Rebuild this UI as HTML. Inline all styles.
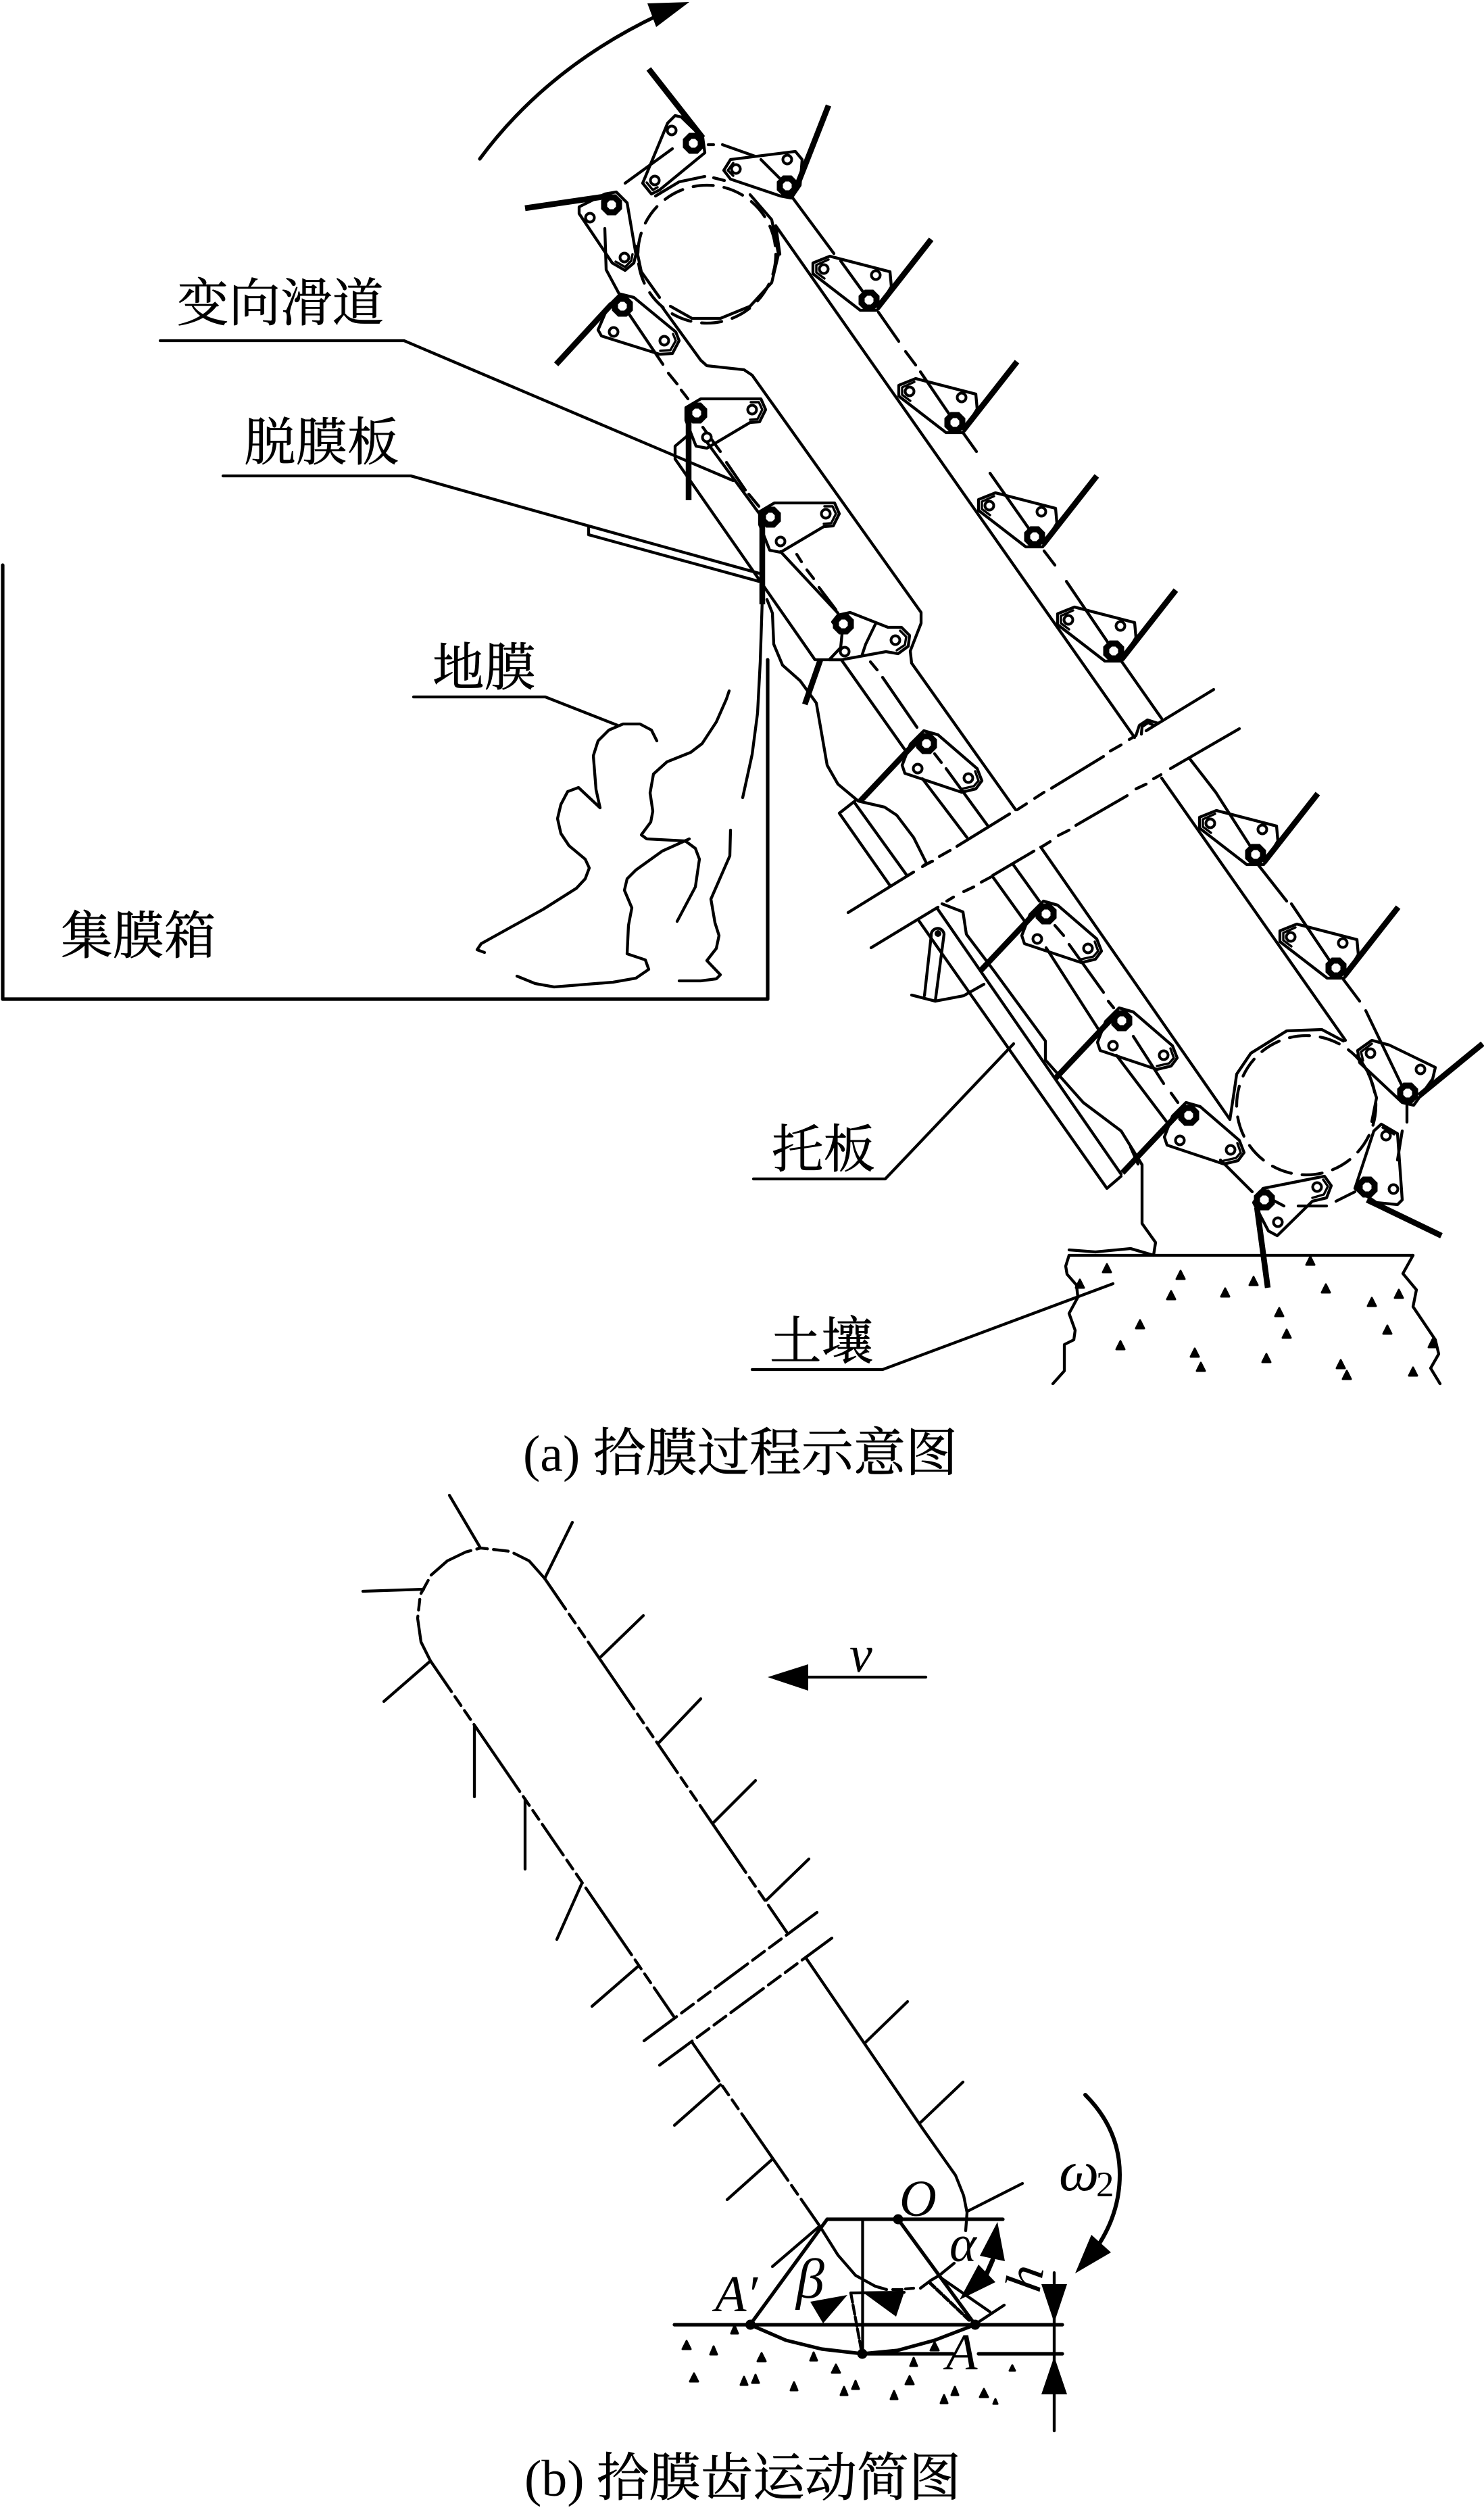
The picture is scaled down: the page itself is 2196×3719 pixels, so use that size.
<!DOCTYPE html>
<html><head><meta charset="utf-8"><style>
html,body{margin:0;padding:0;background:#fff}
svg{display:block}
.l{fill:none;stroke:#000;stroke-width:4.3;stroke-linejoin:round;stroke-linecap:round}
.d{fill:none;stroke:#000;stroke-width:3.4;stroke-linejoin:round;stroke-linecap:round}
.w{fill:none;stroke:#000;stroke-width:5.2;stroke-linejoin:round;stroke-linecap:round}
.t{fill:none;stroke:#000;stroke-width:8.5;stroke-linecap:butt;stroke-linejoin:round}
.cj{font-family:"Liberation Serif","Noto Serif CJK SC",serif;font-size:76.5px;fill:#000;stroke:#000;stroke-width:.7}
.la{font-family:"Liberation Serif",serif;font-size:76px;fill:#000}
.it{font-family:"Liberation Serif",serif;font-style:italic;font-size:76px;fill:#000}
.tr{fill:#000;stroke:#000;stroke-width:3;stroke-linejoin:round}
</style></head><body>
<svg width="2196" height="3719" viewBox="0 0 2196 3719" xmlns="http://www.w3.org/2000/svg">
<defs>
<g id="pin"><polygon points="11,-4.5 4.5,-11 -4.5,-11 -11,-4.5 -11,4.5 -4.5,11 4.5,11 11,4.5" fill="#fff" stroke="#000" stroke-width="9"/></g>
<circle id="end" r="6.5" fill="#fff" stroke="#000" stroke-width="4"/>
<circle id="sm" r="6.5" fill="#fff" stroke="#000" stroke-width="4"/>
<g id="R"><polygon class="l" points="-58,-65 31,-42 33,-20 12,15 -13,15 -83,-39 -83,-55"/><polyline class="d" points="-60,-60 -78,-52 -78,-41 -66,-32"/><use href="#end" x="-67" y="-46"/><use href="#sm" x="10" y="-37"/><use href="#pin"/><line class="t" x1="12" y1="12" x2="92" y2="-90"/></g>
<g id="L"><polygon class="l" points="-4,-19 17,-13 75,37 82,55 73,67 52,72 -32,44 -36,32 -24,1"/><polyline class="d" points="72,41 77,55 70,63 52,67"/><use href="#end" x="62" y="51"/><use href="#sm" x="-13" y="37"/><use href="#pin"/><line class="t" x1="-14" y1="-4" x2="-98" y2="85"/></g>
<g id="U"><polygon class="l" points="6,-21 79,-21 95,-21 102,-5 93,13 79,14 15,52 -1,49 -16,11 -16,-8"/><polyline class="d" points="80,-16 92,-16 97,-5 90,9 79,10"/><use href="#end" x="82" y="-5"/><use href="#sm" x="15" y="36"/><use href="#pin"/><line class="t" x1="-12" y1="6" x2="-12" y2="129"/></g>
</defs>
<rect width="2196" height="3719" fill="#fff"/>

<!-- (a) arrow -->
<path class="w" d="M710,235Q810,100 975,22"/>
<polygon points="1020,3 958,5 971,40"/>

<!-- box -->
<polyline class="w" points="4,836 4,1478 1136,1478 1136,976"/>

<!-- labels -->
<text class="cj" x="262" y="475">变向滑道</text>
<polyline class="l" points="237,504 598,504 1085,711"/>
<text class="cj" x="361" y="681">脱膜板</text>
<polyline class="l" points="330,704 608,704 871,778"/>
<text class="cj" x="640" y="1014">地膜</text>
<polyline class="l" points="612,1031 807,1031 914,1073"/>
<text class="cj" x="90" y="1411">集膜箱</text>
<text class="cj" x="1142" y="1727">托板</text>
<polyline class="l" points="1115,1744 1310,1744 1500,1544"/>
<text class="cj" x="1139" y="2011">土壤</text>
<polyline class="l" points="1113,2026 1306,2026 1647,1899"/>

<!-- stripper board -->
<polyline class="l" points="871,791 871,778 1123,848"/>
<line class="l" x1="871" y1="791" x2="1123" y2="860"/>

<!-- film -->
<polyline class="l" points="1079,1022 1075,1034 1060,1068 1039,1100 1022,1113 987,1127 967,1145 962,1173 966,1200 963,1216 949,1235 957,1241 1014,1244 1029,1255 1035,1271 1029,1312 1002,1363"/>
<polyline class="l" points="972,1096 964,1080 947,1071 922,1071 901,1080 885,1096 878,1118 882,1168 888,1195 856,1165 840,1171 830,1190 825,1211 830,1233 842,1251 866,1271 872,1284 866,1300 853,1314 804,1345 712,1396 706,1405 717,1409"/>
<polyline class="l" points="1020,1241 980,1259 941,1287 928,1300 924,1317 935,1343 930,1369 928,1411 955,1420 960,1434 941,1447 907,1453 869,1456 820,1460 792,1455 765,1444"/>
<polyline class="l" points="1081,1228 1080,1266 1052,1330 1058,1365 1064,1384 1060,1403 1046,1421 1066,1442 1060,1448 1037,1451 1005,1451"/>
<polyline class="l" points="1128,887 1125,979 1121,1055 1113,1116 1099,1180"/>
<polyline class="l" points="1135,887 1143,907 1145,953 1158,984 1184,1007 1208,1040 1224,1132 1240,1160 1270,1185 1309,1194 1327,1206 1352,1239 1371,1277"/>
<line class="l" x1="1367" y1="1280" x2="1380" y2="1274"/>

<!-- upper sprocket -->
<circle class="l" cx="1046" cy="376" r="102" stroke-dasharray="30 16"/>
<polyline class="l" points="1110,288 1142,325 1152,376 1142,418 1110,453 1066,471 1024,471 992,453"/>
<polyline class="l" points="1148,334 1154,376"/>
<polyline class="l" points="1043,261 1005,269 970,290"/>
<polyline class="l" points="1056,263 1072,267"/>
<polyline class="l" points="895,338 897,399 919,440"/>
<polyline class="l" points="941,364 949,402 976,440"/>
<line class="l" x1="1048" y1="214" x2="1056" y2="214"/>
<line class="l" x1="1069" y1="214" x2="1117" y2="231"/>
<line class="l" x1="1126" y1="236" x2="1164" y2="274"/>
<line class="l" x1="925" y1="271" x2="995" y2="220"/>

<!-- right rail & chain upper -->
<line class="l" x1="1148" y1="334" x2="1679" y2="1091"/>
<path class="l" d="M1171,290L1234,375M1244,386L1286,444M1300,462L1330,505M1340,520L1355,540M1362,550L1413,625M1425,640L1445,668M1465,700L1531,794M1545,815L1561,836M1578,860L1648,963M1658,976L1719,1063"/>

<!-- center guide -->
<polyline class="l" points="979,453 1037,533 1046,541 1101,547 1113,555 1363,906 1363,922 1347,963 1349,981 1503,1198"/>

<!-- left chain upper -->
<path class="l" d="M925,456L981,539M989,552L1002,568M1008,577L1018,590M1040,632L1066,668M1075,684L1103,725M1108,731L1123,749M1179,820L1186,831M1194,843L1204,856M1212,869L1237,902"/>
<polyline class="l" points="1018,644 999,660 999,679 1206,976 1245,976 1339,1109"/>
<line class="l" x1="1043" y1="650" x2="1123" y2="759"/>
<line class="l" x1="1155" y1="816" x2="1240" y2="907"/>
<polyline class="l" points="1296,922 1281,953 1276,968"/>
<path class="l" d="M1288,979L1298,991M1306,1002L1357,1076M1383,1115L1393,1128M1400,1137L1462,1222"/>
<line class="l" x1="1365" y1="1152" x2="1431" y2="1239"/>

<!-- film board -->
<polyline class="l" points="1265,1185 1242,1203 1317,1310"/>
<line class="l" x1="1265" y1="1188" x2="1342" y2="1295"/>

<!-- break lines -->
<path class="l" d="M1255,1350L1352,1290M1365,1282L1379,1274M1390,1267L1406,1258M1416,1252L1494,1204M1505,1198L1519,1189M1531,1181L1545,1172M1556,1166L1633,1119M1643,1111L1659,1102M1671,1094L1681,1088M1696,1081L1796,1020"/>
<path class="l" d="M1289,1402L1388,1342M1401,1333L1411,1327M1426,1319L1441,1312M1452,1305L1467,1297M1469,1295L1530,1259M1541,1253L1554,1245M1566,1236L1582,1228M1592,1221L1668,1177M1681,1167L1696,1160M1707,1152L1718,1146M1732,1137L1834,1078"/>
<polyline class="l" points="1681,1088 1686,1073 1698,1065 1714,1070"/>
<polyline class="l" points="1689,1086 1690,1075 1699,1069 1707,1073"/>

<!-- lower rails -->
<line class="l" x1="1540" y1="1253" x2="1820" y2="1656"/>
<polyline class="l" points="1820,1656 1827,1610 1830,1589 1851,1558 1904,1525 1956,1523 1988,1540"/>
<line class="l" x1="1719" y1="1151" x2="1991" y2="1539"/>
<path class="l" d="M1761,1123L1799,1172M1799,1172L1858,1264M1860,1277L1904,1333M1911,1337L1977,1435M1988,1449L2012,1481M2021,1495L2075,1607"/>
<polyline class="l" points="2009,1561 2026,1589 2037,1624 2030,1659"/>
<line class="l" x1="1469" y1="1297" x2="1515" y2="1361"/>
<line class="l" x1="1500" y1="1280" x2="1538" y2="1333"/>
<line class="l" x1="1548" y1="1402" x2="1625" y2="1522"/>
<path class="l" d="M1561,1369L1574,1384M1582,1397L1633,1468M1640,1481L1648,1491M1677,1533L1722,1603M1733,1617L1743,1631"/>
<line class="l" x1="1652" y1="1561" x2="1726" y2="1659"/>
<line class="l" x1="1806" y1="1716" x2="1853" y2="1763"/>

<!-- tray -->
<polyline class="l" points="1359,1361 1638,1758 1659,1740"/>
<line class="l" x1="1387" y1="1344" x2="1659" y2="1737"/>
<polyline class="l" points="1394,1337 1425,1349 1430,1382 1470,1435 1547,1540 1547,1568 1603,1631 1659,1673 1690,1723 1690,1810 1710,1838 1707,1857 1673,1847 1621,1852 1582,1849"/>
<line class="l" x1="1673" y1="1697" x2="1684" y2="1722"/>
<!-- rod -->
<path class="l" d="M1368,1473L1378,1384A9.5,9.5 0 0 1 1397,1382L1384,1481"/>
<circle cx="1388" cy="1381" r="5"/>
<polyline class="l" points="1349,1472 1384,1481 1426,1473 1456,1456"/>

<!-- lower sprocket -->
<circle class="l" cx="1933" cy="1635" r="103" stroke-dasharray="30 16"/>
<path class="l" d="M1883,1775L1900,1784M1921,1784L1963,1784M1977,1777L2005,1763M2082,1631L2082,1660M2075,1673L2068,1716"/>

<!-- plates: right side -->
<use href="#R" x="1286" y="444"/>
<use href="#R" x="1413" y="625"/>
<use href="#R" x="1531" y="794"/>
<use href="#R" x="1648" y="963"/>
<use href="#R" x="1858" y="1264"/>
<use href="#R" x="1977" y="1432"/>
<!-- plates: left descending -->
<use href="#L" x="1371" y="1100"/>
<use href="#L" x="1548" y="1352"/>
<use href="#L" x="1660" y="1510"/>
<use href="#L" x="1759" y="1650"/>
<!-- plates: upper left -->
<use href="#U" x="1031" y="611"/>
<use href="#U" x="1140" y="765"/>

<!-- plate at stripper -->
<polygon class="l" points="1240,910 1258,906 1314,928 1334,928 1346,940 1344,956 1329,967 1311,964 1245,976 1227,976 1244,958 1246,938 1232,920"/>
<polyline class="d" points="1332,933 1341,942 1339,954 1327,962"/>
<use href="#end" x="1325" y="947"/><use href="#sm" x="1250" y="964"/><use href="#pin" x="1248" y="923"/>
<line class="t" x1="1214" y1="976" x2="1191" y2="1042"/>

<!-- top sprocket plates -->
<polygon class="l" points="1081,236 1177,224 1187,236 1184,274 1171,293 1155,290 1081,265 1071,252"/>
<polyline class="d" points="1085,241 1077,252 1085,260"/>
<use href="#end" x="1089" y="250"/><use href="#sm" x="1165" y="236"/><use href="#pin" x="1165" y="275"/>
<line class="t" x1="1177" y1="281" x2="1226" y2="156"/>

<polygon class="l" points="999,171 1008,173 1040,204 1043,226 976,281 964,287 951,271 988,182"/>
<polyline class="d" points="957,270 966,281 973,277"/>
<use href="#end" x="969" y="267"/><use href="#sm" x="994" y="193"/><use href="#pin" x="1026" y="212"/>
<line class="t" x1="960" y1="102" x2="1040" y2="204"/>

<polygon class="l" points="912,284 895,287 857,306 857,316 906,389 925,400 938,389 941,376 928,300"/>
<polyline class="d" points="911,387 925,395 934,386 936,376"/>
<use href="#end" x="924" y="381"/><use href="#sm" x="873" y="322"/><use href="#pin" x="905" y="303"/>
<line class="t" x1="777" y1="308" x2="900" y2="290"/>

<polygon class="l" points="918,435 938,440 1000,491 1005,504 995,523 976,524 890,497 885,488 900,453"/>
<polyline class="d" points="996,494 1000,504 992,518 977,519"/>
<use href="#end" x="983" y="504"/><use href="#sm" x="908" y="491"/><use href="#pin" x="921" y="453"/>
<line class="t" x1="823" y1="539" x2="905" y2="450"/>

<!-- lower sprocket plates -->
<polygon class="l" points="2030,1539 2056,1546 2124,1579 2120,1596 2092,1635 2075,1631 2012,1572 2009,1554"/>
<polyline class="d" points="2030,1544 2014,1556 2017,1569"/>
<use href="#end" x="2028" y="1558"/><use href="#sm" x="2102" y="1582"/><use href="#pin" x="2083" y="1617"/>
<line class="t" x1="2100" y1="1621" x2="2194" y2="1544"/>

<polygon class="l" points="2044,1663 2068,1677 2075,1775 2068,1782 2037,1779 2005,1758 2033,1673"/>
<polyline class="d" points="2046,1668 2063,1678"/>
<use href="#end" x="2051" y="1680"/><use href="#sm" x="2062" y="1759"/><use href="#pin" x="2023" y="1756"/>
<line class="t" x1="2023" y1="1775" x2="2133" y2="1828"/>

<polygon class="l" points="1869,1758 1960,1740 1970,1754 1963,1772 1942,1777 1890,1828 1877,1821 1855,1779"/>
<polyline class="d" points="1958,1745 1965,1755 1959,1767 1942,1772"/>
<use href="#end" x="1949" y="1756"/><use href="#sm" x="1891" y="1808"/><use href="#pin" x="1871" y="1775"/>
<line class="t" x1="1860" y1="1786" x2="1876" y2="1905"/>

<!-- soil (a) -->
<line class="l" x1="1582" y1="1857" x2="2091" y2="1857"/>
<polyline class="l" points="1582,1857 1577,1873 1579,1885 1593,1901 1595,1919 1582,1943 1591,1968 1589,1982 1575,1989 1575,2028 1558,2047"/>
<polyline class="l" points="2091,1857 2076,1884 2096,1908 2091,1933 2124,1982 2129,2003 2117,2024 2131,2047"/>
<path class="tr" d="M1638,1870l6,12h-12zM1598,1893l6,12h-12zM1747,1880l6,12h-12zM1855,1889l6,12h-12zM1733,1910l6,12h-12zM1813,1906l6,12h-12zM1939,1859l6,12h-12zM1962,1900l6,12h-12zM2030,1920l6,12h-12zM2070,1908l6,12h-12zM1893,1935l6,12h-12zM1687,1953l6,12h-12zM1904,1967l6,12h-12zM2053,1961l6,12h-12zM1658,1984l6,12h-12zM1768,1995l6,12h-12zM1777,2016l6,12h-12zM1874,2003l6,12h-12zM1984,2012l6,12h-12zM1993,2028l6,12h-12zM2091,2023l6,12h-12zM2120,1981l6,12h-12z"/>

<!-- captions -->
<text class="la" x="774" y="2176">(a)</text>
<text class="cj" style="font-size:77px" x="878" y="2176">拾膜过程示意图</text>

<!-- (b) body -->
<polyline class="l" stroke-dasharray="70 9 16 9 22 9" points="637,2457 623,2429 618,2394 622,2359 638,2330 662,2309 689,2296 711,2290 755,2295 783,2309 806,2335"/>
<line class="l" x1="806" y1="2335" x2="1164" y2="2858" stroke-dasharray="55 9 16 9 16 9 120 9 16 9 16 9"/>
<line class="l" x1="637" y1="2457" x2="997" y2="2983" stroke-dasharray="55 9 16 9 16 9 120 9 16 9 16 9"/>
<path class="l" stroke-dasharray="60 9 22 9 22 9" d="M953,3019L1209,2829M976,3055L1231,2867"/>
<line class="l" x1="1024" y1="3021" x2="1213" y2="3293" stroke-dasharray="70 9 16 9 16 9 120 9 16 9"/>
<polyline class="l" points="1193,2897 1366,3150 1414,3218 1426,3248 1431,3273 1429,3300"/>
<polyline class="l" points="1213,3293 1240,3336 1266,3366 1295,3382 1312,3387"/>
<path class="l" d="M1321,3387L1335,3387M1340,3386L1352,3385M1362,3385L1378,3373L1390,3366L1412,3348"/>
<path class="l" d="M711,2290L665,2212M806,2335L847,2252M627,2351L537,2354M637,2457L568,2517M889,2451L952,2390M974,2579L1037,2513M1055,2697L1118,2634M1134,2811L1197,2750M702,2552L702,2658M777,2661L777,2765M861,2786L824,2869M944,2909L876,2968M1066,3084L998,3144M1280,3022L1343,2961M1362,3140L1425,3080M1142,3195L1076,3254M1432,3271L1513,3230M1213,3293L1143,3353"/>

<!-- v -->
<line class="l" x1="1196" y1="2481" x2="1370" y2="2481"/>
<polygon points="1136,2481 1196,2462 1196,2501"/>
<text class="it" x="1257" y="2473">v</text>

<!-- kinematics -->
<line class="w" x1="1224" y1="3283" x2="1484" y2="3283"/>
<line class="l" x1="1276.5" y1="3283" x2="1276.5" y2="3482"/>
<line class="w" x1="1329" y1="3283" x2="1443" y2="3439"/>
<line class="w" x1="1110" y1="3439" x2="1224" y2="3283"/>
<line class="w" x1="998" y1="3439" x2="1572" y2="3439"/>
<path class="w" d="M1276,3482L1410,3482M1448,3482L1572,3482"/>
<polyline class="w" points="1110,3439 1163,3462 1216,3475 1276,3482 1328,3477 1383,3462 1443,3439"/>
<circle cx="1329" cy="3283" r="7.5"/><circle cx="1276" cy="3482" r="7.5"/><circle cx="1110.5" cy="3439" r="7.5"/><circle cx="1443" cy="3439" r="7.5"/>
<line class="l" x1="1560" y1="3362" x2="1560" y2="3596"/>
<polygon points="1560,3436 1541,3379 1579,3379"/>
<polygon points="1560,3486 1541,3542 1579,3542"/>
<path class="w" d="M1606,3099Q1657,3150 1657,3217Q1657,3270 1628,3317" style="stroke-width:6"/>
<polygon points="1591,3363 1615,3306 1644,3332"/>
<polygon points="1476,3287 1450,3337 1487,3345"/>
<polygon points="1420,3402 1448,3350 1473,3376"/>
<line class="w" x1="1469" y1="3343" x2="1459" y2="3366" style="stroke-width:7"/>
<polygon points="1199,3405 1254,3395 1218,3437"/>
<polygon points="1278,3392 1338,3391 1326,3427"/>
<line class="l" x1="1259" y1="3392" x2="1338" y2="3391"/>
<line class="l" x1="1259" y1="3392" x2="1275" y2="3479" stroke-dasharray="14 4"/>
<line class="l" x1="1376" y1="3377" x2="1436" y2="3434" stroke-dasharray="10 4" style="stroke-width:5"/>
<line class="l" x1="1390" y1="3368" x2="1465" y2="3420"/>
<line class="l" x1="1445" y1="3437" x2="1486" y2="3410"/>

<text class="it" x="1331" y="3278">O</text>
<text class="it" x="1405" y="3345">α</text>
<text class="it" style="font-size:84px" x="1178" y="3399">β</text>
<text class="it" x="1058" y="3419">A′</text>
<text class="it" x="1400" y="3505">A</text>
<text class="it" transform="translate(1538,3393) rotate(-80)">h</text>
<text class="it" style="font-size:84px" x="1567" y="3240">ω</text>
<text class="la" style="font-size:53px" x="1622" y="3249">2</text>

<path class="tr" d="M1087,3440l5,12h-10zM1016,3463l6,12h-12zM1056,3471l5,12h-10zM1127,3481l6,12h-12zM1204,3480l5,12h-10zM1237,3498l6,12h-12zM1352,3488l5,12h-10zM1383,3465l6,12h-12zM1498,3499l4,8h-8zM1027,3511l6,12h-12zM1101,3516l5,12h-10zM1118,3513l5,12h-10zM1175,3524l5,12h-10zM1249,3531l5,12h-10zM1266,3522l5,12h-10zM1346,3515l6,12h-12zM1323,3537l5,12h-10zM1397,3543l5,12h-10zM1413,3531l5,12h-10zM1456,3534l6,12h-12zM1473,3549l3,7h-6z"/>

<text class="la" x="776" y="3692">(b)</text>
<text class="cj" style="font-size:77px" x="883" y="3692">拾膜齿运动简图</text>
</svg>
</body></html>
